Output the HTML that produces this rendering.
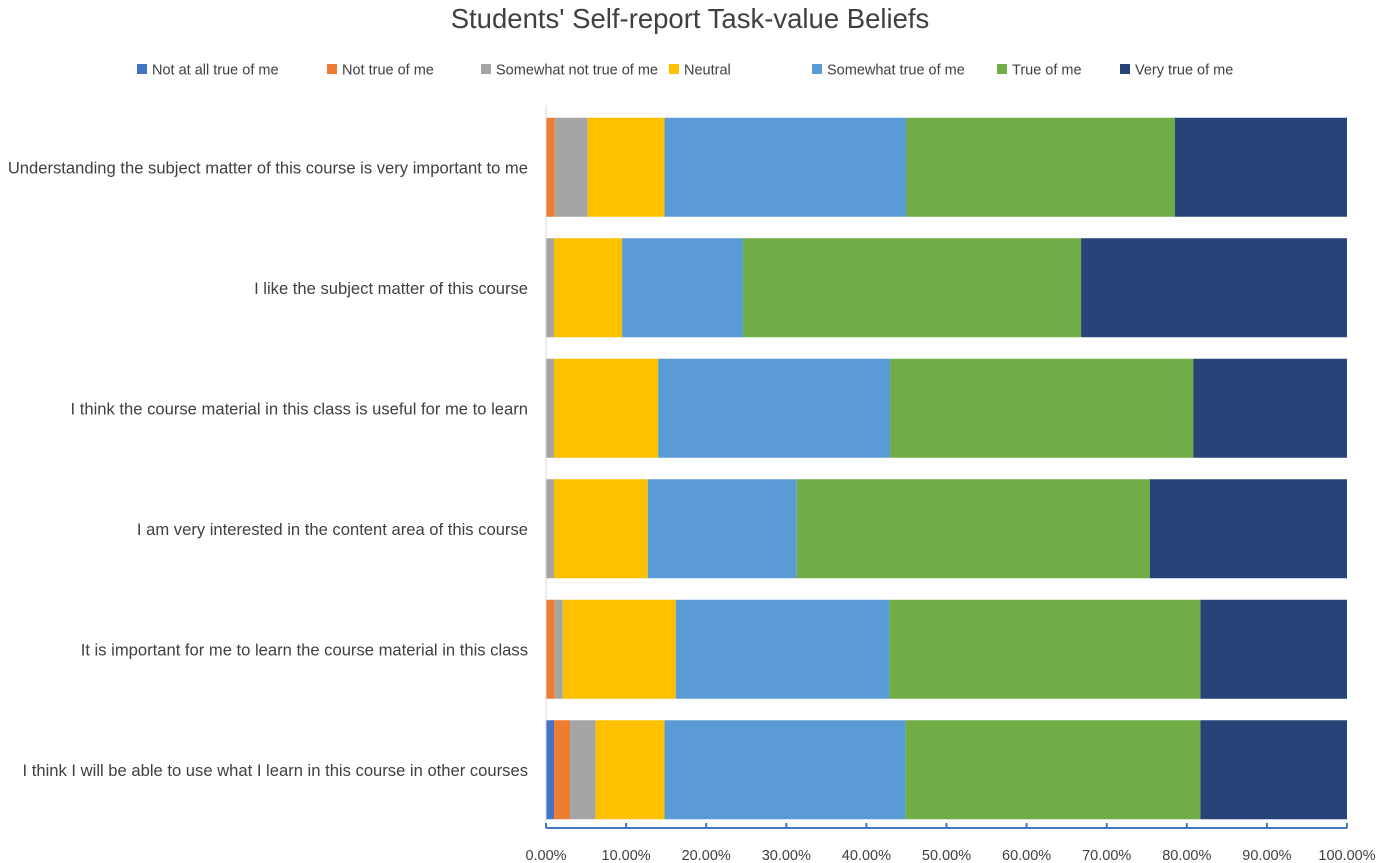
<!DOCTYPE html>
<html><head><meta charset="utf-8"><style>
body{margin:0;background:#fff;font-family:"Liberation Sans",sans-serif;}
svg{display:block}
</style></head><body>
<svg id="chart" width="1381" height="863">
<text x="690" y="28" text-anchor="middle" font-size="27.5" fill="#404040">Students'  Self-report Task-value Beliefs</text>
<g id="legend"></g>
<g id="bars"></g>
<g id="axes"></g>
</svg>
<script>
const categories=["Understanding the subject matter of this course is very important to me","I like the subject matter of this course","I think the course material in this class is useful for me to learn","I am very interested in the content area of this course","It is important for me to learn the course material in this class","I think I will be able to use what I learn in this course in other courses"];
const seriesNames=["Not at all true of me","Not true of me","Somewhat not true of me","Neutral","Somewhat true of me","True of me","Very true of me"];
const notAtAll=[0,0,0,0,0,1.0];
const notTrue=[1.1,0,0,0,1.1,2.0];
const somewhatNot=[4.1,1.0,1.0,1.0,1.0,3.2];
const neutral=[9.6,8.5,13.0,11.7,14.1,8.6];
const somewhatTrue=[30.2,15.1,29.0,18.6,26.7,30.1];
const trueOf=[33.5,42.2,37.8,44.1,38.8,36.8];
const veryTrue=[21.5,33.2,19.2,24.6,18.3,18.3];
const tickLabels=["0.00%","10.00%","20.00%","30.00%","40.00%","50.00%","60.00%","70.00%","80.00%","90.00%","100.00%"];
const colors=["#4472C4","#ED7D31","#A5A5A5","#FFC000","#5B9BD5","#70AD47","#264478"];
const series=[notAtAll,notTrue,somewhatNot,neutral,somewhatTrue,trueOf,veryTrue];
const NS="http://www.w3.org/2000/svg";
const x0=546,x1=1347,yTop=105,yBot=828;
const band=(yBot-yTop)/categories.length, barH=99;
const xs=v=>x0+v/100*(x1-x0);
const bandY=i=>yTop+i*band+(band-barH)/2+2;
function mk(t,a,p){const e=document.createElementNS(NS,t);for(const k in a)e.setAttribute(k,a[k]);p.appendChild(e);return e;}
const gb=document.getElementById('bars');
categories.forEach((c,i)=>{
  let acc=0;
  series.forEach((s,j)=>{
    const v=s[i];
    if(v>0){
      const r=mk('rect',{x:xs(acc),y:bandY(i),width:xs(acc+v)-xs(acc),height:barH,fill:colors[j]},gb);
      
      
    }
    acc+=v;
  });
  const t=mk('text',{x:528,y:bandY(i)+barH/2+6,'text-anchor':'end','font-size':16.6,fill:'#404040'},gb);
  t.textContent=c;
  
  
});
const ga=document.getElementById('axes');
mk('line',{x1:x0,y1:yTop,x2:x0,y2:yBot,stroke:'#d9d9d9','stroke-width':1},ga);
const ax=mk('line',{x1:x0,y1:yBot,x2:x1,y2:yBot,stroke:'#4472C4','stroke-width':2},ga);


tickLabels.forEach((l,k)=>{
  const x=xs(k*10);
  mk('line',{x1:x,y1:yBot-5,x2:x,y2:yBot,stroke:'#4472C4','stroke-width':2},ga);
  const t=mk('text',{x:x,y:860,'text-anchor':'middle','font-size':14.5,fill:'#404040'},ga);
  t.textContent=l;
  
  
});
const gl=document.getElementById('legend');
const lx=[137,327,481,669,812,997,1120];
seriesNames.forEach((n,j)=>{
  const g=mk('g',{},gl);
  
  
  mk('rect',{x:lx[j],y:64,width:10,height:10,fill:colors[j]},g);
  const t=mk('text',{x:lx[j]+15,y:74.5,'font-size':14.5,fill:'#404040'},g);
  t.textContent=n;
});
</script>
</body></html>
